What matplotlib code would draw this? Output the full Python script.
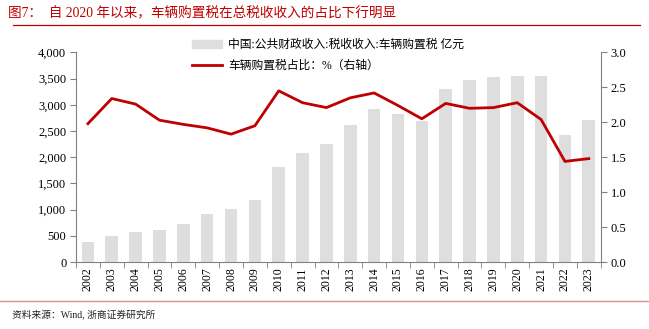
import numpy as np
import matplotlib
matplotlib.use('Agg')
import matplotlib.pyplot as plt
from matplotlib.lines import Line2D

plt.rcParams['font.family'] = ['Liberation Serif', 'Noto Sans CJK SC', 'DejaVu Sans']
plt.rcParams['axes.unicode_minus'] = False

years = [str(y) for y in range(2002, 2024)]
tax_revenue = [376, 496, 573, 611, 719, 910, 1017, 1189, 1819, 2074, 2258,
               2620, 2914, 2818, 2697, 3302, 3473, 3524, 3556, 3550, 2418, 2704]
tax_share = [1.98, 2.34, 2.26, 2.03, 1.97, 1.92, 1.83, 1.95, 2.45, 2.28, 2.21,
             2.35, 2.42, 2.24, 2.05, 2.27, 2.20, 2.21, 2.28, 2.04, 1.44, 1.48]

bar_label = '中国:公共财政收入:税收收入:车辆购置税 亿元'
line_label = '车辆购置税占比：%（右轴）'
title = '图7：  自 2020 年以来，车辆购置税在总税收收入的占比下行明显'
source = '资料来源：Wind, 浙商证券研究所'

red = '#C00000'
axis_gray = '#808080'

fig = plt.figure(figsize=(6.49, 3.29), dpi=100)
ax = fig.add_axes([0.1171, 0.2036, 0.8085, 0.6371])
ax2 = ax.twinx()

x = np.arange(len(years))
ax.bar(x, tax_revenue, width=0.53, color='#DEDEDE', zorder=1)
ax2.plot(x, tax_share, color=red, lw=2.0, zorder=3)

ax.set_xlim(-0.5, len(years) - 0.5)
ax.set_ylim(0, 4000)
ax.set_yticks(np.arange(0, 4001, 500))
ax.set_yticklabels([f'{v:,}' for v in range(0, 4001, 500)])
ax2.set_ylim(0, 3.0)
ax2.set_yticks(np.arange(0, 3.01, 0.5))
ax2.set_yticklabels([f'{v:.1f}' for v in np.arange(0, 3.01, 0.5)])

ax.set_xticks(x)
ax.set_xticklabels(years, rotation=90)
ax.set_xticks(np.arange(-0.5, len(years), 1), minor=True)
ax.tick_params(axis='x', which='major', length=0, pad=4, labelsize=8.5)
ax.tick_params(axis='x', which='minor', length=4, color=axis_gray, direction='out')

for a in (ax, ax2):
    a.spines['top'].set_visible(False)
    for s in ('left', 'right', 'bottom'):
        a.spines[s].set_color(axis_gray)
        a.spines[s].set_linewidth(0.8)
    a.tick_params(axis='y', length=4, color=axis_gray, labelsize=9, pad=3)
ax.spines['right'].set_visible(False)
ax2.spines['left'].set_visible(False)
ax2.spines['bottom'].set_visible(False)

ax.set_zorder(ax2.get_zorder() - 1)
ax2.patch.set_visible(False)

handles = [plt.Rectangle((0, 0), 1, 1, color='#DEDEDE'),
           Line2D([0], [0], color=red, lw=2.0)]
fig.legend(handles, [bar_label, line_label], loc='upper left',
           bbox_to_anchor=(0.288, 0.895), frameon=False, fontsize=8.5,
           handlelength=2.6, handletextpad=0.5, labelspacing=0.75,
           borderaxespad=0)

fig.text(0.012, 0.96, title, color=red, fontsize=9.8, va='center', ha='left')
fig.add_artist(Line2D([0.02, 0.986], [0.924, 0.924], color=red, lw=0.9,
                      transform=fig.transFigure))
fig.add_artist(Line2D([0.0, 1.0], [0.086, 0.086], color='#E09090', lw=1.0,
                      transform=fig.transFigure))
fig.text(0.018, 0.042, source, color='#222222', fontsize=7, va='center', ha='left')

plt.savefig('out.png', dpi=100)
